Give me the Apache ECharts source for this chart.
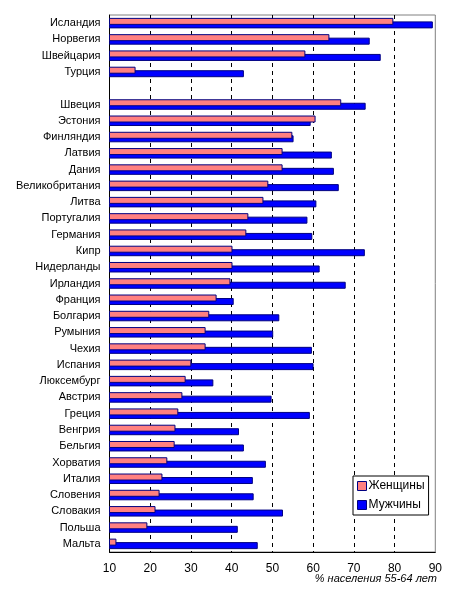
<!DOCTYPE html>
<html>
<head>
<meta charset="utf-8">
<script src="https://cdn.jsdelivr.net/npm/echarts@6/dist/echarts.min.js"></script>
<style>html,body{margin:0;padding:0;background:#fff;}#c{width:454px;height:594px;}</style>
</head>
<body>
<div id="c"></div>
<script>
const categories = ['Исландия','Норвегия','Швейцария','Турция','','Швеция','Эстония','Финляндия','Латвия','Дания','Великобритания','Литва','Португалия','Германия','Кипр','Нидерланды','Ирландия','Франция','Болгария','Румыния','Чехия','Испания','Люксембург','Австрия','Греция','Венгрия','Бельгия','Хорватия','Италия','Словения','Словакия','Польша','Мальта'];
const women = [79.7,64.0,58.1,16.4,null,66.9,60.6,54.9,52.5,52.5,49.0,47.8,44.1,43.6,40.2,40.2,39.7,36.3,34.5,33.6,33.6,30.1,28.7,27.9,26.9,26.2,26.0,24.2,23.0,22.3,21.3,19.3,11.7];
const men = [89.4,73.9,76.6,43.0,null,72.9,59.4,55.2,64.6,65.1,66.3,60.8,58.6,59.8,72.7,61.6,68.0,40.5,51.7,50.2,59.7,60.1,35.5,49.8,59.2,41.8,43.0,48.4,45.2,45.4,52.6,41.5,46.4];
const xTicks = [10,20,30,40,50,60,70,80,90];
const seriesNames = ['Женщины','Мужчины'];
const axisTitle = '% населения 55-64 лет';

const font = 'Arial, "Liberation Sans", sans-serif';
const chart = echarts.init(document.getElementById('c'), null, {renderer:'canvas'});
chart.setOption({
  animation: false,
  backgroundColor: '#fff',
  title: {
    text: axisTitle, right: 17, top: 573, padding: 0,
    textStyle: {fontFamily: font, fontSize: 11, fontStyle: 'italic', fontWeight: 'normal', color: '#000'}
  },
  grid: {left: 109.5, right: 18.7, top: 15, bottom: 42, show: true, borderColor: '#808080', borderWidth: 1, containLabel: false},
  legend: {
    orient: 'vertical', left: 353, top: 476,
    data: seriesNames, icon: 'rect', itemWidth: 9, itemHeight: 9, itemGap: 7,
    padding: [4, 4, 4, 4], borderColor: '#000', borderWidth: 1, backgroundColor: '#fff',
    textStyle: {fontFamily: font, fontSize: 12, color: '#000', padding: [0,0,0,-3]},
    itemStyle: {borderColor: '#000080', borderWidth: 1}
  },
  xAxis: {
    type: 'value', min: xTicks[0], max: xTicks[xTicks.length-1], interval: 10,
    axisLine: {show: true, lineStyle: {color: '#000'}},
    axisTick: {show: false},
    axisLabel: {fontFamily: font, fontSize: 12, color: '#000', margin: 11,
      customValues: xTicks, showMinLabel: true, showMaxLabel: true},
    splitLine: {show: true, showMinLine: false, showMaxLine: false, lineStyle: {color: '#000', type: [4,4], width: 1}}
  },
  yAxis: {
    type: 'category', data: categories, inverse: true,
    axisLine: {show: true, lineStyle: {color: '#000'}},
    axisTick: {show: false},
    axisLabel: {fontFamily: font, fontSize: 11, color: '#000', margin: 9, interval: 0},
    splitLine: {show: false}
  },
  series: [
    {name: seriesNames[0], type: 'bar', data: women, barWidth: 7, barGap: '-50%', z: 3,
     itemStyle: {color: '#FF8080', borderColor: '#000080', borderWidth: 1}},
    {name: seriesNames[1], type: 'bar', data: men, barWidth: 7, z: 2,
     itemStyle: {color: '#0000FF', borderColor: '#000080', borderWidth: 1}}
  ]
});
</script>
</body>
</html>
